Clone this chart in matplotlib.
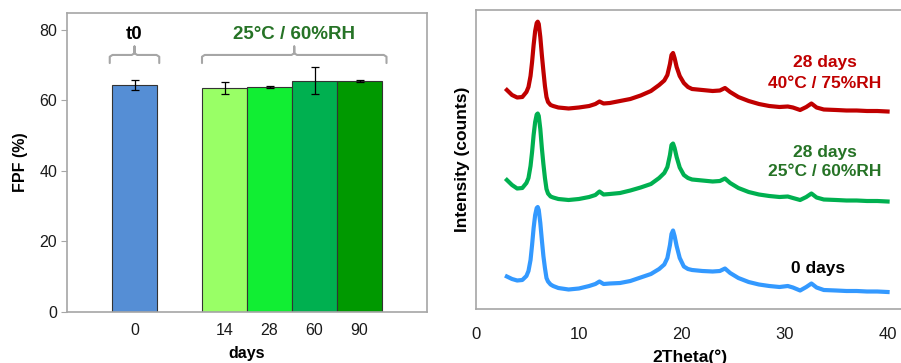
import numpy as np
import matplotlib
matplotlib.use("Agg")
import matplotlib.pyplot as plt

plt.rcParams['font.family'] = ['Liberation Sans', 'DejaVu Sans']

# ----------------- FPF data -----------------
days = ["0", "14", "28", "60", "90"]
bar_pos = [0, 2, 3, 4, 5]
fpf = [64.4, 63.6, 63.8, 65.6, 65.6]
fpf_err = [1.5, 1.7, 0.2, 3.9, 0.3]
bar_colors = ["#558ED5", "#99FF66", "#11EE33", "#00B050", "#009900"]

# ----------------- XRD data -----------------
two_theta = [3.0, 3.5, 4.0, 4.5, 4.9, 5.1, 5.3, 5.45, 5.6, 5.75, 5.9, 6.0, 6.1, 6.25,
             6.4, 6.55, 6.7, 6.85, 7.0, 7.25, 7.5, 8.0, 9.0, 10.0, 11.0, 11.6, 12.0,
             12.4, 13.0, 14.0, 15.0, 16.0, 17.0, 17.8, 18.3, 18.6, 18.85, 19.0, 19.15,
             19.3, 19.5, 19.8, 20.2, 20.6, 21.0, 22.0, 23.0, 23.7, 24.2, 24.7, 25.5,
             26.5, 27.5, 28.5, 29.5, 30.3, 30.8, 31.5, 32.1, 32.6, 33.1, 33.8, 35.0,
             36.0, 37.0, 38.0, 39.0, 40.0]
xrd_40c = [2190, 2140, 2115, 2120, 2170, 2220, 2330, 2470, 2640, 2780, 2860, 2873, 2850, 2720,
           2540, 2380, 2230, 2120, 2070, 2040, 2030, 2015, 2005, 2015, 2030, 2050, 2075,
           2055, 2060, 2080, 2100, 2135, 2180, 2240, 2285, 2340, 2450, 2540, 2560,
           2510, 2420, 2330, 2260, 2220, 2200, 2190, 2180, 2185, 2210, 2170, 2120,
           2080, 2050, 2030, 2020, 2025, 2015, 1990, 2020, 2055, 2015, 1995, 1990,
           1985, 1985, 1980, 1980, 1975]
xrd_25c = [1290, 1240, 1205, 1210, 1260, 1310, 1430, 1570, 1740, 1870, 1945, 1955, 1930, 1800,
           1610, 1450, 1310, 1200, 1155, 1125, 1115, 1100, 1090, 1100, 1120, 1140, 1175,
           1145, 1150, 1160, 1185, 1215, 1250, 1310, 1360, 1420, 1540, 1640, 1655,
           1610, 1520, 1415, 1340, 1310, 1295, 1285, 1275, 1280, 1305, 1260, 1210,
           1170, 1145, 1130, 1120, 1125, 1110, 1090, 1120, 1155, 1115, 1095, 1090,
           1085, 1085, 1080, 1080, 1075]
xrd_0d = [325, 300, 285, 290, 330, 380, 490, 640, 810, 940, 1010, 1020, 990, 860,
          690, 530, 410, 310, 275, 245, 230, 210, 195, 205, 230, 250, 275,
          250, 255, 260, 280, 315, 350, 400, 445, 510, 640, 750, 785,
          730, 630, 510, 425, 400, 390, 380, 375, 380, 405, 360, 310,
          270, 245, 230, 220, 230, 215, 185, 220, 255, 215, 190, 185,
          180, 180, 175, 175, 170]

fig = plt.figure(figsize=(9.01, 3.63), dpi=100)

SPINE = "#A6A6A6"
DKGREEN = "#267326"

# ----------------- Left: FPF bars -----------------
ax1 = fig.add_axes([67 / 901, 51 / 363, 360 / 901, 299 / 363])
ax1.bar(bar_pos, fpf, width=1.0, color=bar_colors, edgecolor="#333333", linewidth=0.8,
        yerr=fpf_err, error_kw=dict(ecolor="black", elinewidth=0.9, capsize=3, capthick=0.9))
ax1.set_xlim(-1.5, 6.5)
ax1.set_ylim(0, 84.8)
ax1.set_yticks([0, 20, 40, 60, 80])
ax1.set_xticks(bar_pos)
ax1.set_xticklabels(days)
ax1.tick_params(axis="x", length=0, labelsize=11.5, pad=8, colors="#1a1a1a")
ax1.tick_params(axis="y", length=4, color=SPINE, labelsize=11.5, pad=3, labelcolor="#1a1a1a")
for s in ax1.spines.values():
    s.set_color(SPINE)
    s.set_linewidth(1.2)
ax1.set_xlabel("days", fontsize=11.5, fontweight="bold", labelpad=6)
ax1.set_ylabel("FPF (%)", fontsize=11.5, fontweight="bold", labelpad=8)


def bracket(ax, x0, x1, y, color):
    xm = (x0 + x1) / 2
    r = 0.06
    xs = [x0, x0, x0 + r, xm - r, xm, xm, xm, xm + r, x1 - r, x1, x1]
    ys = [y - 2.3, y - 0.5, y, y, y + 0.5, y + 2.4, y + 0.5, y, y, y - 0.5, y - 2.3]
    ax.plot(xs, ys, color=color, lw=1.5, solid_capstyle="round", solid_joinstyle="round",
            clip_on=False)


bracket(ax1, -0.55, 0.55, 72.9, SPINE)
bracket(ax1, 1.5, 5.6, 72.9, SPINE)
ax1.text(0, 78.6, "t0", ha="center", va="center", fontsize=13.5, fontweight="bold", color="black")
ax1.text(3.55, 78.6, "25°C / 60%RH", ha="center", va="center", fontsize=13.5,
         fontweight="bold", color=DKGREEN)

# ----------------- Right: XRD patterns -----------------
ax2 = fig.add_axes([476 / 901, 54 / 363, 427 / 901, 299 / 363])
ax2.plot(two_theta, xrd_40c, color="#C00000", lw=3, solid_joinstyle="round")
ax2.plot(two_theta, xrd_25c, color="#00B050", lw=3, solid_joinstyle="round")
ax2.plot(two_theta, xrd_0d, color="#3399FF", lw=3, solid_joinstyle="round")
ax2.set_xlim(0, 41.5)
ax2.set_ylim(0, 2990)
ax2.set_xticks([0, 10, 20, 30, 40])
ax2.set_yticks([])
ax2.tick_params(axis="x", length=0, labelsize=12, pad=13, colors="#1a1a1a")
for s in ax2.spines.values():
    s.set_color(SPINE)
    s.set_linewidth(1.2)
ax2.set_xlabel("2Theta(°)", fontsize=12.5, fontweight="bold", labelpad=5)
ax2.set_ylabel("Intensity (counts)", fontsize=12.5, fontweight="bold", labelpad=4)

ax2.text(33.9, 2470, "28 days", ha="center", va="center", fontsize=12.5, fontweight="bold",
         color="#C00000")
ax2.text(33.9, 2260, "40°C / 75%RH", ha="center", va="center", fontsize=12.5, fontweight="bold",
         color="#C00000")
ax2.text(33.9, 1570, "28 days", ha="center", va="center", fontsize=12.5, fontweight="bold",
         color=DKGREEN)
ax2.text(33.9, 1370, "25°C / 60%RH", ha="center", va="center", fontsize=12.5, fontweight="bold",
         color=DKGREEN)
ax2.text(33.2, 410, "0 days", ha="center", va="center", fontsize=12.5, fontweight="bold",
         color="black")

fig.savefig("out.png", dpi=100)
plt.close(fig)
